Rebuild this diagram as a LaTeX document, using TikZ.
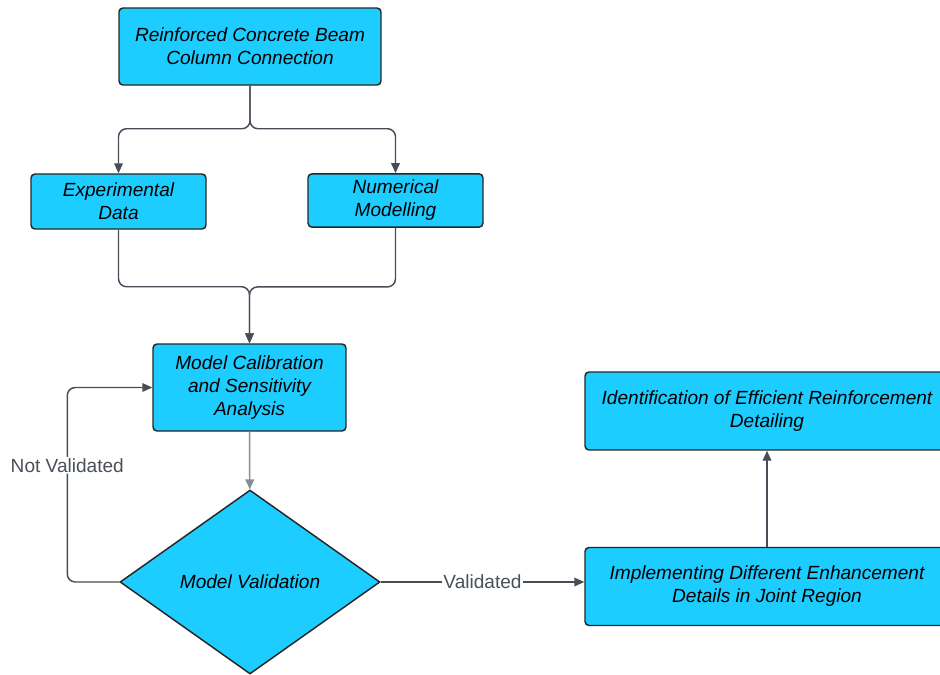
\documentclass[tikz,border=0pt]{standalone}
\usepackage{fontspec}
\setmainfont{Liberation Sans}
\usetikzlibrary{shapes.geometric,arrows.meta}
\definecolor{boxcyan}{HTML}{1ECDFF}
\definecolor{edgegray}{HTML}{474D57}
\definecolor{labelgray}{HTML}{4A505A}
\tikzset{
    every node/.style={font=\fontsize{14.3}{17.25}\selectfont\itshape, align=center}
}
\tikzset{
    box/.style={rectangle, rounded corners=3pt, fill=boxcyan, draw=black!85,
    	line width=1.1pt, inner sep=2pt},
    decision/.style={diamond, fill=boxcyan, draw=black!85, line width=1.1pt,
    	minimum width=195pt, minimum height=138pt, inner sep=0pt}
}
\tikzset{
    line/.style={draw=edgegray, line width=1.1pt, rounded corners=6pt,
    	-{Triangle[length=7.5pt,width=6.5pt]}},
    tag/.style={fill=white, text=labelgray, inner sep=1pt,
    	font=\fontsize{14.3}{17.25}\selectfont\upshape}
}

\begin{document}
\begin{tikzpicture}[x=0.75pt, y=-0.75pt]
	\useasboundingbox (0,0) rectangle (940,675);
	\node [box, minimum width=196.5pt, minimum height=57.75pt] (rcbc) at (250,46.5) {Reinforced Concrete Beam\\Column Connection};
	\node [box, minimum width=131.25pt, minimum height=41.25pt] (exp) at (118.5,201.5) {Experimental\\Data};
	\node [box, minimum width=131.25pt, minimum height=40pt] (num) at (395.5,200.5) {Numerical\\Modelling};
	\node [box, minimum width=144.75pt, minimum height=65.25pt] (cal) at (249.5,387.5) {Model Calibration\\and Sensitivity\\Analysis};
	\node [decision] (val) at (250,582) {Model Validation};
	\node [box, minimum width=273pt, minimum height=58.5pt] (ident) at (767,411) {Identification of Efficient Reinforcement\\Detailing};
	\node [box, minimum width=273pt, minimum height=58.5pt] (impl) at (767,586.5) {Implementing Different Enhancement\\Details in Joint Region};
	\draw [line] (rcbc.south) -- ++(0,43) -| (exp.north);
	\draw [line] (rcbc.south) -- ++(0,43) -| (num.north);
	\draw [line] (exp.south) -- ++(0,57) -| (cal.north);
	\draw [line] (num.south) -- ++(0,59) -| (cal.north);
	\draw [line, draw=edgegray!65] (cal) -- (val);
	\draw [line] (val.west) -- ++(-52,0) |- node [tag, pos=0.3] {Not Validated} (cal.west);
	\draw [line] (val.east) -- node [tag] {Validated} (val.east -| impl.west);
	\draw [line] (impl) -- (ident);
\end{tikzpicture}
\end{document}
